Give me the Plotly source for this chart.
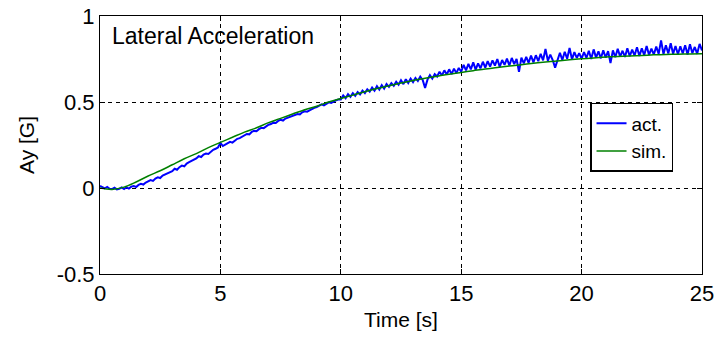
import plotly.graph_objects as go

# ---- data ----
t_sim = [i * 0.5 for i in range(51)]
ay_sim = [0.0, -0.008, 0.005, 0.035, 0.07, 0.10, 0.135, 0.17, 0.20, 0.235,
          0.265, 0.295, 0.325, 0.35, 0.38, 0.405, 0.43, 0.455, 0.475, 0.50,
          0.52, 0.54, 0.56, 0.578, 0.595, 0.61, 0.625, 0.638, 0.65, 0.662,
          0.672, 0.682, 0.692, 0.70, 0.709, 0.717, 0.725, 0.732, 0.739, 0.745,
          0.751, 0.756, 0.761, 0.765, 0.768, 0.771, 0.774, 0.776, 0.778, 0.779,
          0.780]

t_act = [round(i * 0.1, 1) for i in range(251)]
ay_act = [
    0.012, 0.004, -0.002, 0.006, -0.004, -0.006, 0.002, -0.008, -0.005, 0.003,
    -0.006, 0.004, -0.003, 0.008, 0.012, 0.006, 0.018, 0.024, 0.020, 0.032,
    0.038, 0.046, 0.041, 0.055, 0.062, 0.058, 0.072, 0.078, 0.084, 0.092,
    0.098, 0.112, 0.106, 0.121, 0.130, 0.126, 0.142, 0.150, 0.158, 0.162,
    0.172, 0.185, 0.180, 0.194, 0.200, 0.198, 0.212, 0.222, 0.228, 0.236,
    0.262, 0.244, 0.252, 0.260, 0.268, 0.264, 0.278, 0.286, 0.290, 0.298,
    0.306, 0.314, 0.312, 0.326, 0.332, 0.330, 0.342, 0.350, 0.348, 0.360,
    0.368, 0.372, 0.380, 0.378, 0.390, 0.396, 0.392, 0.404, 0.410, 0.414,
    0.420, 0.426, 0.430, 0.428, 0.440, 0.446, 0.444, 0.452, 0.460, 0.466,
    0.470, 0.476, 0.486, 0.480, 0.490, 0.498, 0.494, 0.504, 0.510, 0.514,
    0.514, 0.538, 0.522, 0.546, 0.530, 0.552, 0.536, 0.558, 0.544, 0.566,
    0.552, 0.574, 0.560, 0.584, 0.566, 0.592, 0.572, 0.598, 0.578, 0.604,
    0.588, 0.610, 0.594, 0.618, 0.600, 0.626, 0.604, 0.632, 0.610, 0.636,
    0.616, 0.640, 0.622, 0.648, 0.628, 0.582, 0.630, 0.656, 0.636, 0.662,
    0.648, 0.676, 0.654, 0.684, 0.660, 0.690, 0.662, 0.694, 0.668, 0.698,
    0.676, 0.716, 0.684, 0.722, 0.690, 0.730, 0.688, 0.724, 0.696, 0.734,
    0.700, 0.738, 0.706, 0.742, 0.712, 0.750, 0.704, 0.744, 0.716, 0.752,
    0.712, 0.756, 0.720, 0.750, 0.675, 0.758, 0.724, 0.762, 0.728, 0.770,
    0.730, 0.772, 0.738, 0.780, 0.742, 0.808, 0.740, 0.776, 0.744, 0.700,
    0.750, 0.786, 0.744, 0.792, 0.752, 0.814, 0.748, 0.790, 0.756, 0.784,
    0.752, 0.790, 0.756, 0.798, 0.750, 0.806, 0.758, 0.794, 0.754, 0.800,
    0.758, 0.796, 0.727, 0.800, 0.760, 0.810, 0.764, 0.798, 0.762, 0.812,
    0.766, 0.804, 0.770, 0.818, 0.768, 0.812, 0.772, 0.826, 0.774, 0.810,
    0.776, 0.822, 0.780, 0.858, 0.778, 0.830, 0.782, 0.842, 0.780, 0.826,
    0.778, 0.824, 0.782, 0.830, 0.776, 0.836, 0.784, 0.820, 0.780, 0.838,
    0.800,
]

series_names = ["act.", "sim."]

x_ticks = [0, 5, 10, 15, 20, 25]
x_ticklabels = ["0", "5", "10", "15", "20", "25"]
y_ticks = [-0.5, 0, 0.5, 1]
y_ticklabels = ["-0.5", "0", "0.5", "1"]

FONT = "Liberation Sans, Arial, sans-serif"

fig = go.Figure()
fig.add_trace(go.Scatter(x=t_act, y=ay_act, mode="lines", name=series_names[0],
                         line=dict(color="#0000ff", width=2)))
fig.add_trace(go.Scatter(x=t_sim, y=ay_sim, mode="lines", name=series_names[1],
                         line=dict(color="#008000", width=1.5, shape="spline")))

axis_common = dict(
    showline=True, linecolor="black", linewidth=1, mirror="ticks",
    ticks="inside", ticklen=5, tickcolor="black", tickwidth=1,
    showgrid=True, gridcolor="black", gridwidth=1, griddash="4px,4px",
    zeroline=False, automargin=False,
    tickfont=dict(family=FONT, size=22, color="black"),
)

fig.update_layout(
    width=715, height=338,
    margin=dict(l=100, r=13, t=16, b=64),
    paper_bgcolor="white", plot_bgcolor="white",
    font=dict(family=FONT, size=22, color="black"),
    xaxis=dict(range=[0, 25], tickvals=x_ticks, ticktext=x_ticklabels,
               title=dict(text="Time [s]", font=dict(size=21), standoff=6),
               **axis_common),
    yaxis=dict(range=[-0.5, 1], tickvals=y_ticks, ticktext=y_ticklabels,
               title=dict(text="Ay [G]", font=dict(size=21), standoff=16),
               **axis_common),
    legend=dict(x=0.814, y=0.663, xanchor="left", yanchor="top",
                bgcolor="white", bordercolor="black", borderwidth=1.5,
                font=dict(family=FONT, size=19, color="black"),
                tracegroupgap=0),
    showlegend=True,
    annotations=[dict(text="Lateral Acceleration", xref="x domain", yref="y domain",
                      x=0.016, y=0.922, xanchor="left", yanchor="middle",
                      showarrow=False, font=dict(family=FONT, size=23, color="black"))],
)

fig.write_html("out.html")
